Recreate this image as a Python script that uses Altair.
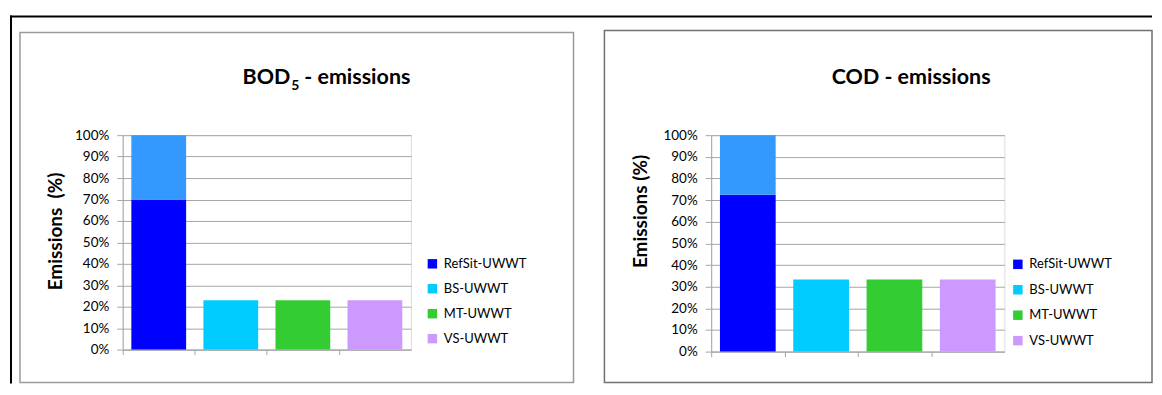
import altair as alt
import pandas as pd

scenarios = ["RefSit-UWWT", "BS-UWWT", "MT-UWWT", "VS-UWWT"]
upper_label = "RefSit-UWWT (other)"
bod_lower = [70, 23, 23, 23]
bod_upper = [30, 0, 0, 0]
cod_lower = [72.5, 33.3, 33.3, 33.3]
cod_upper = [27.5, 0, 0, 0]
series_colors = ["#0000FF", "#00CCFF", "#33CC33", "#CC99FF", "#3399FF"]
y_ticks = [0, 10, 20, 30, 40, 50, 60, 70, 80, 90, 100]
y_title_left = "Emissions\u00a0 (%)"
y_title_right = "Emissions (%)"

FONT = "Lato"
GRID = "#a6a6a6"


def make_df(lower, upper):
    rows = []
    for s, lo, up in zip(scenarios, lower, upper):
        rows.append({"scenario": s, "series": s, "value": lo, "order": 0})
        if up > 0:
            rows.append({"scenario": s, "series": upper_label, "value": up, "order": 1})
    return pd.DataFrame(rows)


one = pd.DataFrame({"k": [0]})


def panel(df, ytitle, tx, ty, lx, ly, rowpad, border, border_color):
    bars = alt.Chart(df).mark_bar().encode(
        x=alt.X("scenario:N", sort=scenarios,
                scale=alt.Scale(paddingInner=0.24, paddingOuter=0.12),
                axis=alt.Axis(title=None, labels=False, ticks=True, tickSize=5,
                              bandPosition=0, tickOffset=-8.7, grid=False,
                              domainColor=GRID, tickColor=GRID)),
        y=alt.Y("value:Q", stack="zero",
                scale=alt.Scale(domain=[0, 100], nice=False),
                axis=alt.Axis(values=y_ticks, labelExpr="datum.value + '%'",
                              title=ytitle, titleX=tx, titleY=ty, titleAngle=270,
                              titleAlign="center", titleBaseline="alphabetic",
                              titleFont=FONT, titleFontSize=19, titleFontWeight="bold",
                              titleColor="#000000",
                              labelFont=FONT, labelFontSize=13.5, labelColor="#000000",
                              labelPadding=8, tickSize=6, tickColor=GRID,
                              domainColor=GRID, grid=True, gridColor=GRID)),
        color=alt.Color("series:N",
                        scale=alt.Scale(domain=scenarios + [upper_label], range=series_colors),
                        legend=alt.Legend(values=scenarios, title=None, orient="none",
                                          legendX=lx, legendY=ly, symbolType="square",
                                          symbolSize=90, symbolStrokeWidth=0,
                                          labelFont=FONT, labelFontSize=13,
                                          labelColor="#000000", labelOffset=5,
                                          rowPadding=rowpad, padding=0)),
        order=alt.Order("order:Q", sort="ascending"),
    )
    rect = alt.Chart(one).mark_rect(filled=False, stroke=border_color, strokeWidth=1.5).encode(
        x=alt.value(border[0]), x2=alt.value(border[1]),
        y=alt.value(border[2]), y2=alt.value(border[3]))
    return rect, bars


bod_df = make_df(bod_lower, bod_upper)
cod_df = make_df(cod_lower, cod_upper)

rect_l, bars_l = panel(bod_df, y_title_left, -61.5, 96, 304, 122.5, 11,
                       (-103, 452, -103, 248), "#9a9a9a")
rect_r, bars_r = panel(cod_df, y_title_right, -64.5, 76, 301, 123, 11.5,
                       (-107, 442, -105, 248), "#707070")

title_style = dict(font=FONT, fontWeight="bold", color="#000000", baseline="alphabetic")
bod_main = alt.Chart(one).mark_text(text="BOD", align="right", fontSize=21.5, **title_style).encode(
    x=alt.value(168), y=alt.value(-51))
bod_sub = alt.Chart(one).mark_text(text="5", align="left", fontSize=14, **title_style).encode(
    x=alt.value(169), y=alt.value(-45))
bod_rest = alt.Chart(one).mark_text(text="- emissions", align="left", fontSize=21.5, **title_style).encode(
    x=alt.value(182), y=alt.value(-51))
cod_title = alt.Chart(one).mark_text(text="COD - emissions", align="center", fontSize=21.5, **title_style).encode(
    x=alt.value(200.5), y=alt.value(-51))

frame_top = alt.Chart(one).mark_rule(color="#000000", strokeWidth=2, strokeCap="butt").encode(
    x=alt.value(-113), x2=alt.value(1032), y=alt.value(-119))
frame_left = alt.Chart(one).mark_rule(color="#000000", strokeWidth=2, strokeCap="butt").encode(
    x=alt.value(-112), y=alt.value(-120), y2=alt.value(249))

left = alt.layer(rect_l, bars_l, bod_main, bod_sub, bod_rest, frame_top, frame_left).properties(
    width=289, height=215)
right = alt.layer(rect_r, bars_r, cod_title).properties(width=294, height=217)

chart = alt.hconcat(left, right, spacing=301, bounds="flush").resolve_scale(
    color="independent", x="independent", y="independent"
).properties(
    padding={"left": 0, "top": 5, "right": 0, "bottom": 0}
).configure_view(stroke=GRID).configure(font=FONT)

chart.save("out.html", embed_options={"renderer": "svg", "actions": False})
